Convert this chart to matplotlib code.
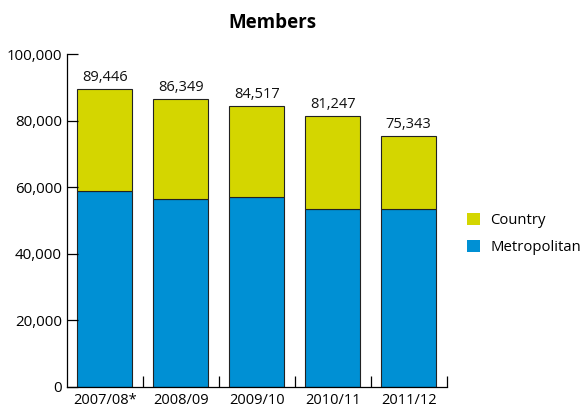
import matplotlib
matplotlib.use("Agg")
import matplotlib.pyplot as plt
from matplotlib.patches import Patch
from matplotlib.ticker import FuncFormatter, FixedLocator

plt.rcParams["font.family"] = ["Open Sans", "DejaVu Sans"]

# data
years = ["2007/08*", "2008/09", "2009/10", "2010/11", "2011/12"]
totals = [89446, 86349, 84517, 81247, 75343]
metropolitan = [58800, 56600, 57200, 53600, 53400]
country = [t - m for t, m in zip(totals, metropolitan)]

blue = "#0090d4"
yellow = "#d4d600"

fig = plt.figure(figsize=(5.88, 4.11), dpi=100)
ax = fig.add_axes([0.1134, 0.0584, 0.6463, 0.8102])

x = list(range(len(years)))
ax.bar(x, metropolitan, width=0.72, color=blue, edgecolor="#222222", linewidth=0.8)
ax.bar(x, country, width=0.72, bottom=metropolitan, color=yellow,
       edgecolor="#222222", linewidth=0.8)

for xi, t in zip(x, totals):
    ax.text(xi, t + 1200, f"{t:,}", ha="center", va="bottom", fontsize=10.5,
            color="#111111")

ax.set_xlim(-0.5, len(years) - 0.5)
ax.set_ylim(0, 100000)
ax.set_yticks(range(0, 100001, 20000))
ax.yaxis.set_major_formatter(FuncFormatter(lambda v, _: f"{int(v):,}"))
ax.set_xticks(x)
ax.set_xticklabels(years)
ax.xaxis.set_minor_locator(FixedLocator([i + 0.5 for i in x]))
ax.tick_params(axis="x", which="major", length=0, labelsize=10.5, pad=4)
ax.tick_params(axis="x", which="minor", length=8, direction="in", width=0.9)
ax.tick_params(axis="y", length=8, direction="in", width=0.9, labelsize=10.8)

for side in ["top", "right"]:
    ax.spines[side].set_visible(False)
for side in ["left", "bottom"]:
    ax.spines[side].set_linewidth(0.9)

fig.text(0.464, 0.945, "Members", ha="center", va="center", fontsize=13.5,
         fontweight="bold")

handles = [Patch(facecolor=yellow, label="Country"),
           Patch(facecolor=blue, label="Metropolitan")]
fig.legend(handles=handles, loc="center left", bbox_to_anchor=(0.772, 0.43),
           frameon=False, fontsize=10.7, handlelength=0.85, handleheight=0.85,
           handletextpad=0.7, labelspacing=0.8)

fig.savefig("out.png", dpi=100)
